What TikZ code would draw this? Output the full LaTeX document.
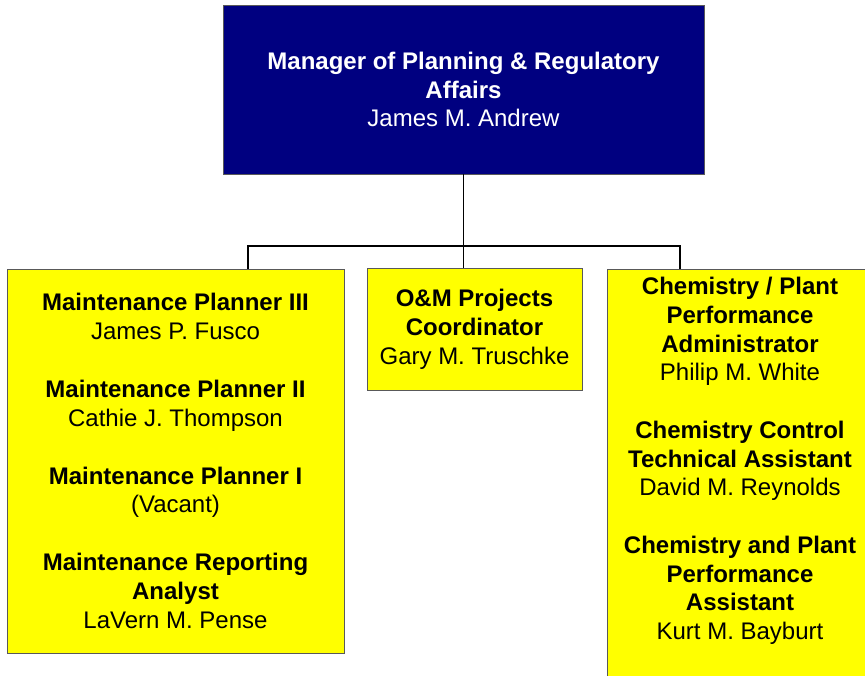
\documentclass[tikz,border=0pt]{standalone}
\usepackage{fontspec}
\setmainfont{Liberation Sans}
\definecolor{navybox}{RGB}{0,0,128}
\definecolor{yellowbox}{RGB}{255,255,0}
\begin{document}
\begin{tikzpicture}[x=1pt,y=-1pt,
  orgbox/.style={draw=black!65,line width=0.8pt,inner sep=0pt,align=center,
    font=\fontsize{24}{28.85}\selectfont},
  topbox/.style={orgbox,fill=navybox,text=white},
  subbox/.style={orgbox,fill=yellowbox,text=black},
  txt/.style={inner sep=0pt,align=center,font=\fontsize{24}{28.75}\selectfont},
  link/.style={draw=black,line width=1.3pt}]
\useasboundingbox (0,0) rectangle (865,675);
\clip (0,0) rectangle (865,675);
\fill[white] (0,0) rectangle (865,675);

\node[topbox,minimum width=481pt,minimum height=169pt] (mgr) at (463.5,89.5)
  {\textbf{Manager of Planning \& Regulatory}\\\textbf{Affairs}\\James M. Andrew};

\node[subbox,minimum width=337pt,minimum height=384pt] (maint) at (175.5,461)
  {\textbf{Maintenance Planner III}\\James P. Fusco\\[28.85pt]
   \textbf{Maintenance Planner II}\\Cathie J. Thompson\\[28.85pt]
   \textbf{Maintenance Planner I}\\(Vacant)\\[28.85pt]
   \textbf{Maintenance Reporting}\\\textbf{Analyst}\\LaVern M. Pense};

\node[subbox,minimum width=215pt,minimum height=122pt] (om) at (474.5,329)
  {\textbf{O\&M Projects}\\\textbf{Coordinator}\\Gary M. Truschke};

\node[subbox,anchor=north west,minimum width=266pt,minimum height=430pt] (chem) at (607,269) {};
\node[txt] (chemtxt) at (740,461)
  {\textbf{Chemistry / Plant}\\\textbf{Performance}\\\textbf{Administrator}\\Philip M. White\\[28.75pt]
   \textbf{Chemistry Control}\\\textbf{Technical Assistant}\\David M. Reynolds\\[28.75pt]
   \textbf{Chemistry and Plant}\\\textbf{Performance}\\\textbf{Assistant}\\Kurt M. Bayburt};

\coordinate (bus) at (463.5,246);
\coordinate (chemdrop) at (680,269);
\draw[link] (mgr.south) -- (mgr.south |- om.north);
\draw[link] (maint.north -| 248,0) |- (bus) -| (chemdrop);
\end{tikzpicture}
\end{document}
